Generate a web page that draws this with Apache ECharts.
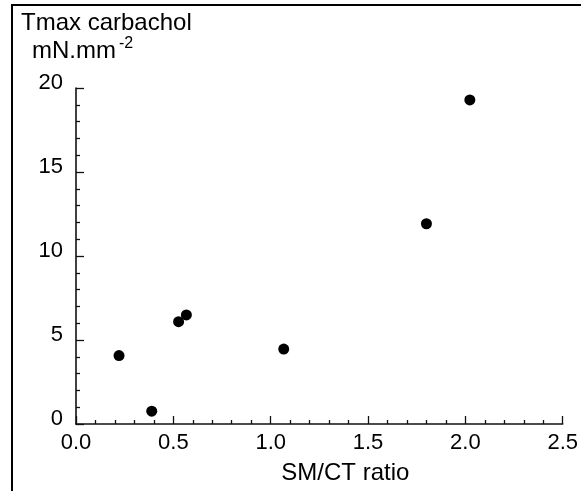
<!DOCTYPE html>
<html>
<head>
<meta charset="utf-8">
<script src="https://cdn.jsdelivr.net/npm/echarts@6/dist/echarts.min.js"></script>
<style>
html,body{margin:0;padding:0;background:#fff;}
#c{width:581px;height:491px;}
</style>
</head>
<body>
<div id="c"></div>
<script>
var smctRatio = [0.221, 0.389, 0.527, 0.567, 1.067, 1.80, 2.023];
var tmaxCarbachol = [4.07, 0.76, 6.09, 6.49, 4.46, 11.92, 19.29];
var xTitle = 'SM/CT ratio';
var yTitleLine1 = 'Tmax carbachol';
var yTitleUnit = 'mN.mm';
var yTitleExp = '-2';

var points = smctRatio.map(function (x, i) { return [x, tmaxCarbachol[i]]; });
var FONT = '"Liberation Sans", Arial, sans-serif';

var chart = echarts.init(document.getElementById('c'), null, {renderer: 'canvas'});
chart.setOption({
  animation: false,
  backgroundColor: '#fff',
  grid: {left: 76, right: 16, top: 88, bottom: 67, containLabel: false},
  xAxis: {
    type: 'value', min: 0, max: 2.5, interval: 0.5,
    name: xTitle, nameLocation: 'middle', nameGap: 37,
    nameTextStyle: {fontFamily: FONT, fontSize: 24, color: '#000', padding: [0, 0, 0, 52]},
    axisLine: {show: true, onZero: false, lineStyle: {color: '#111', width: 1.6}},
    axisTick: {show: true, inside: true, length: 8, lineStyle: {color: '#111', width: 1.3}},
    minorTick: {show: true, splitNumber: 5, length: 4, lineStyle: {color: '#111', width: 1.3}},
    axisLabel: {fontFamily: FONT, fontSize: 22, color: '#000', margin: 8,
      formatter: function (v) { return v.toFixed(1); }},
    splitLine: {show: false}
  },
  yAxis: {
    type: 'value', min: 0, max: 20, interval: 5,
    axisLine: {show: true, onZero: false, lineStyle: {color: '#111', width: 1.6}},
    axisTick: {show: true, inside: true, length: 8, lineStyle: {color: '#111', width: 1.3}},
    minorTick: {show: true, splitNumber: 5, length: 4, lineStyle: {color: '#111', width: 1.3}},
    axisLabel: {fontFamily: FONT, fontSize: 22, color: '#000', margin: 13,
      verticalAlign: 'bottom', lineHeight: 10},
    splitLine: {show: false}
  },
  series: [{
    type: 'scatter',
    data: points,
    symbol: 'circle',
    symbolSize: 11,
    itemStyle: {color: '#000', opacity: 1}
  }],
  graphic: [
    {type: 'rect', silent: true, shape: {x: 12, y: 5, width: 700, height: 700},
      style: {fill: 'none', stroke: '#000', lineWidth: 2}},
    {type: 'text', left: 21, top: 11, silent: true,
      style: {text: yTitleLine1, font: '24px ' + FONT, fill: '#000'}},
    {type: 'text', left: 32, top: 36, silent: true,
      style: {text: '{u|' + yTitleUnit + '}{s|' + yTitleExp + '}',
        rich: {
          u: {fontFamily: FONT, fontSize: 24, fill: '#000', color: '#000'},
          s: {fontFamily: FONT, fontSize: 16, fill: '#000', color: '#000', verticalAlign: 'top', padding: [0, 0, 14, 3]}
        }}}
  ]
});
</script>
</body>
</html>
